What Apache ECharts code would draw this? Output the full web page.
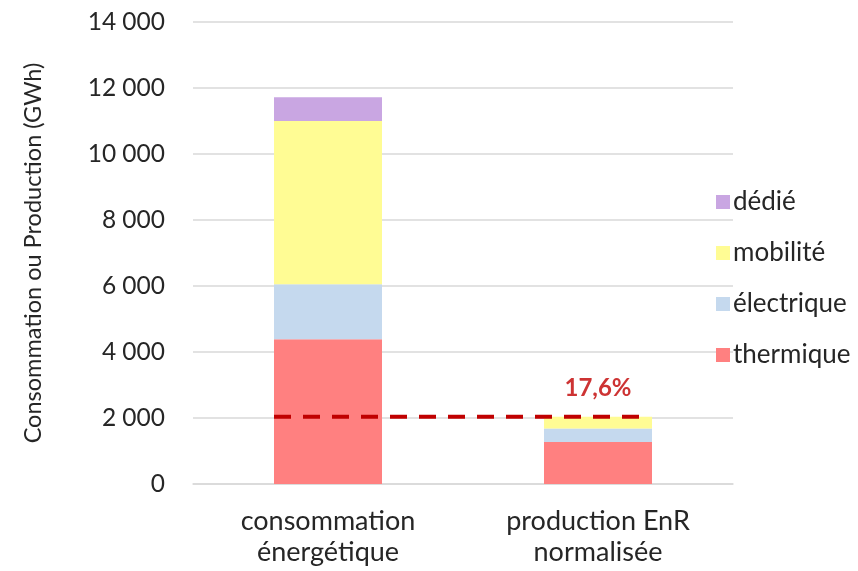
<!DOCTYPE html>
<html>
<head>
<meta charset="utf-8">
<script src="https://cdn.jsdelivr.net/npm/echarts@6/dist/echarts.min.js"></script>
<style>
  html, body { margin: 0; padding: 0; background: #fff; }
  #main { width: 858px; height: 571px; }
</style>
</head>
<body>
<div id="main"></div>
<script>
// données (GWh)
var categories = ['consommation\nénergétique', 'production EnR\nnormalisée'];
var thermique = [4390, 1270];
var electrique = [1660, 415];
var mobilite = [4950, 355];
var dedie = [720, 0];
var seuil = 2040;          // total production EnR, ligne pointillée
var tauxLabel = '17,6%';
var yTicks = [0, 2000, 4000, 6000, 8000, 10000, 12000, 14000];

var myChart = echarts.init(document.getElementById('main'));
var txt = '#262626';
var font = 'Lato, "Open Sans", sans-serif';

function fmt(v) {
  return String(v).replace(/\B(?=(\d{3})+(?!\d))/g, ' ');
}

option = {
  animation: false,
  textStyle: { fontFamily: font },
  grid: { left: 193, right: 125, top: 22, bottom: 87 },
  legend: {
    orient: 'vertical',
    left: 711,
    top: 184,
    icon: 'rect',
    itemWidth: 14,
    itemHeight: 14,
    itemGap: 25,
    textStyle: { fontSize: 26, color: txt, fontFamily: font, lineHeight: 26, padding: [0, 0, 0, -2] },
    data: ['dédié', 'mobilité', 'électrique', 'thermique']
  },
  xAxis: [{
    type: 'category',
    data: categories,
    axisLine: { lineStyle: { color: '#D9D9D9', width: 1.5 } },
    axisTick: { show: false },
    axisLabel: { fontSize: 27, color: txt, lineHeight: 31, margin: 22, fontFamily: font }
  }, {
    type: 'value',
    min: 0,
    max: 2,
    show: false
  }],
  yAxis: {
    type: 'value',
    min: 0,
    max: 14000,
    interval: 2000,
    name: 'Consommation ou Production (GWh)',
    nameLocation: 'middle',
    nameGap: 148,
    nameTextStyle: { fontSize: 23.5, color: txt, fontFamily: font },
    axisLine: { show: false },
    axisTick: { show: false },
    axisLabel: { fontSize: 24.5, color: txt, margin: 28, fontFamily: font, formatter: fmt },
    splitLine: { lineStyle: { color: '#D9D9D9', width: 1.5 } }
  },
  series: [{
    name: 'thermique', type: 'bar', stack: 'a', barWidth: '40%',
    itemStyle: { color: '#FF8080' }, data: thermique
  }, {
    name: 'électrique', type: 'bar', stack: 'a',
    itemStyle: { color: '#C5D9EE' }, data: electrique
  }, {
    name: 'mobilité', type: 'bar', stack: 'a',
    itemStyle: { color: '#FFFC94' }, data: mobilite
  }, {
    name: 'dédié', type: 'bar', stack: 'a',
    itemStyle: { color: '#C9A6E2' }, data: dedie
  }, {
    name: 'seuil', type: 'line', xAxisIndex: 1, symbol: 'none', z: 5,
    lineStyle: { color: '#C00000', width: 4, type: [17, 12] },
    data: [[0.3, seuil], [1.68, seuil]]
  }, {
    name: 'taux', type: 'scatter', xAxisIndex: 1, symbolSize: 0, z: 6,
    label: {
      show: true, position: 'top', distance: 16,
      formatter: tauxLabel,
      color: '#C00000', fontWeight: 'bold', fontSize: 24, fontFamily: font
    },
    data: [[1.5, seuil]]
  }]
};
myChart.setOption(option);
</script>
</body>
</html>
